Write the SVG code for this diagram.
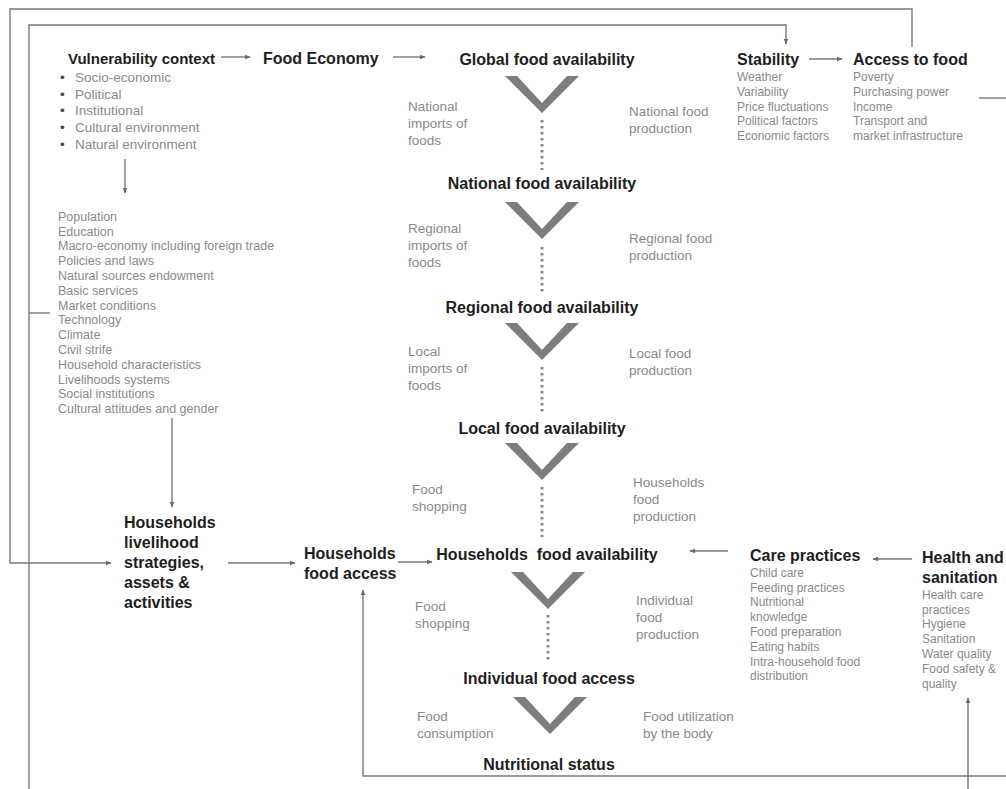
<svg xmlns="http://www.w3.org/2000/svg" width="1006" height="789" viewBox="0 0 1006 789">
<style>
.h{font-family:"Liberation Sans",Arial,sans-serif;font-weight:bold;font-size:16px;fill:#1e1e1e}
.t{font-family:"Liberation Sans",Arial,sans-serif;font-size:13.5px;fill:#8a8a8a}
.b{font-family:"Liberation Sans",Arial,sans-serif;font-size:13.5px;fill:#444}
.s{font-family:"Liberation Sans",Arial,sans-serif;font-size:12px;fill:#8a8a8a}
.l{font-family:"Liberation Sans",Arial,sans-serif;font-size:12.5px;fill:#8a8a8a}
.m{text-anchor:middle}
.c{fill:none;stroke:#7a7a7a;stroke-width:1.4}
.d{fill:none;stroke:#8a8a8a;stroke-width:3;stroke-dasharray:2.5 3.5}
.v{fill:#7d7d7d}
</style>
<defs>
<marker id="ah" viewBox="0 0 10 10" refX="9" refY="5" markerWidth="6" markerHeight="6" markerUnits="userSpaceOnUse" orient="auto">
<path d="M0,1 L10,5 L0,9 Z" fill="#6a6a6a"/>
</marker>
<path id="chev" d="M-37,0 L-25,0 L0,27 L25,0 L37,0 L0,37 Z"/>
</defs>
<rect width="1006" height="789" fill="#fff"/>

<g id="connectors">
<path class="c" d="M912,47 V9 H10 V563 H111" marker-end="url(#ah)"/>
<path class="c" d="M29,789 V25 H786 V44" marker-end="url(#ah)"/>
<path class="c" d="M50,313 H29"/>
<path class="c" d="M221,57 H250" marker-end="url(#ah)"/>
<path class="c" d="M393,57 H425" marker-end="url(#ah)"/>
<path class="c" d="M809,59 H842" marker-end="url(#ah)"/>
<path class="c" d="M979,98 H1006"/>
<path class="c" d="M125,159 V193" marker-end="url(#ah)"/>
<path class="c" d="M172,418 V507" marker-end="url(#ah)"/>
<path class="c" d="M228,563 H295" marker-end="url(#ah)"/>
<path class="c" d="M398,562 H432" marker-end="url(#ah)"/>
<path class="c" d="M728,551 H690" marker-end="url(#ah)"/>
<path class="c" d="M912,559 H873" marker-end="url(#ah)"/>
<path class="c" d="M1006,776 H363 V590" marker-end="url(#ah)"/>
<path class="c" d="M968,789 V698" marker-end="url(#ah)"/>
<path class="d" d="M542,120 V170"/>
<path class="d" d="M542,247 V295"/>
<path class="d" d="M542,367 V413"/>
<path class="d" d="M542,487 V537"/>
<path class="d" d="M548,615 V663"/>
</g>

<g id="chevrons">
<use href="#chev" class="v" x="542" y="76"/>
<use href="#chev" class="v" x="542" y="202"/>
<use href="#chev" class="v" x="542" y="323"/>
<use href="#chev" class="v" x="542" y="443"/>
<use href="#chev" class="v" x="548" y="572"/>
<use href="#chev" class="v" x="550" y="697"/>
</g>

<g id="vulnerability">
<text class="h" x="68" y="64" style="font-size:15px">Vulnerability context</text>
<text class="b" x="60" y="82">•</text><text class="t" x="75" y="82">Socio-economic</text>
<text class="b" x="60" y="99">•</text><text class="t" x="75" y="99">Political</text>
<text class="b" x="60" y="115">•</text><text class="t" x="75" y="115">Institutional</text>
<text class="b" x="60" y="132">•</text><text class="t" x="75" y="132">Cultural environment</text>
<text class="b" x="60" y="149">•</text><text class="t" x="75" y="149">Natural environment</text>
</g>

<g id="food-economy"><text class="h" x="263" y="64">Food Economy</text></g>

<g id="factors">
<text class="l" x="58" y="221">Population</text>
<text class="l" x="58" y="236">Education</text>
<text class="l" x="58" y="250">Macro-economy including foreign trade</text>
<text class="l" x="58" y="265">Policies and laws</text>
<text class="l" x="58" y="280">Natural sources endowment</text>
<text class="l" x="58" y="295">Basic services</text>
<text class="l" x="58" y="310">Market conditions</text>
<text class="l" x="58" y="324">Technology</text>
<text class="l" x="58" y="339">Climate</text>
<text class="l" x="58" y="354">Civil strife</text>
<text class="l" x="58" y="369">Household characteristics</text>
<text class="l" x="58" y="384">Livelihoods systems</text>
<text class="l" x="58" y="398">Social institutions</text>
<text class="l" x="58" y="413">Cultural attitudes and gender</text>
</g>

<g id="livelihood">
<text class="h" x="124" y="528">Households</text>
<text class="h" x="124" y="548">livelihood</text>
<text class="h" x="124" y="568">strategies,</text>
<text class="h" x="124" y="588">assets &amp;</text>
<text class="h" x="124" y="608">activities</text>
</g>

<g id="hh-food-access">
<text class="h" x="304" y="559">Households</text>
<text class="h" x="304" y="579">food access</text>
</g>

<g id="global"><text class="h m" x="547" y="65">Global food availability</text></g>
<g id="national-imports">
<text class="t" x="408" y="111">National</text>
<text class="t" x="408" y="128">imports of</text>
<text class="t" x="408" y="145">foods</text>
</g>
<g id="national-production">
<text class="t" x="629" y="116">National food</text>
<text class="t" x="629" y="133">production</text>
</g>
<g id="national"><text class="h m" x="542" y="189">National food availability</text></g>
<g id="regional-imports">
<text class="t" x="408" y="233">Regional</text>
<text class="t" x="408" y="250">imports of</text>
<text class="t" x="408" y="267">foods</text>
</g>
<g id="regional-production">
<text class="t" x="629" y="243">Regional food</text>
<text class="t" x="629" y="260">production</text>
</g>
<g id="regional"><text class="h m" x="542" y="313">Regional food availability</text></g>
<g id="local-imports">
<text class="t" x="408" y="356">Local</text>
<text class="t" x="408" y="373">imports of</text>
<text class="t" x="408" y="390">foods</text>
</g>
<g id="local-production">
<text class="t" x="629" y="358">Local food</text>
<text class="t" x="629" y="375">production</text>
</g>
<g id="local"><text class="h m" x="542" y="434">Local food availability</text></g>
<g id="shopping-1">
<text class="t" x="412" y="494">Food</text>
<text class="t" x="412" y="511">shopping</text>
</g>
<g id="hh-production">
<text class="t" x="633" y="487">Households</text>
<text class="t" x="633" y="504">food</text>
<text class="t" x="633" y="521">production</text>
</g>
<g id="hh-availability"><text class="h m" x="547" y="560" xml:space="preserve" style="white-space:pre">Households  food availability</text></g>
<g id="shopping-2">
<text class="t" x="415" y="611">Food</text>
<text class="t" x="415" y="628">shopping</text>
</g>
<g id="ind-production">
<text class="t" x="636" y="605">Individual</text>
<text class="t" x="636" y="622">food</text>
<text class="t" x="636" y="639">production</text>
</g>
<g id="ind-access"><text class="h m" x="549" y="684">Individual food access</text></g>
<g id="consumption">
<text class="t" x="417" y="721">Food</text>
<text class="t" x="417" y="738">consumption</text>
</g>
<g id="utilization">
<text class="t" x="643" y="721">Food utilization</text>
<text class="t" x="643" y="738">by the body</text>
</g>
<g id="nutritional"><text class="h m" x="549" y="770">Nutritional status</text></g>

<g id="stability">
<text class="h" x="737" y="65">Stability</text>
<text class="s" x="737" y="81">Weather</text>
<text class="s" x="737" y="96">Variability</text>
<text class="s" x="737" y="111">Price fluctuations</text>
<text class="s" x="737" y="125">Political factors</text>
<text class="s" x="737" y="140">Economic factors</text>
</g>

<g id="access-to-food">
<text class="h" x="853" y="65">Access to food</text>
<text class="s" x="853" y="81">Poverty</text>
<text class="s" x="853" y="96">Purchasing power</text>
<text class="s" x="853" y="111">Income</text>
<text class="s" x="853" y="125">Transport and</text>
<text class="s" x="853" y="140">market infrastructure</text>
</g>

<g id="care">
<text class="h" x="750" y="561">Care practices</text>
<text class="s" x="750" y="577">Child care</text>
<text class="s" x="750" y="592">Feeding practices</text>
<text class="s" x="750" y="606">Nutritional</text>
<text class="s" x="750" y="621">knowledge</text>
<text class="s" x="750" y="636">Food preparation</text>
<text class="s" x="750" y="651">Eating habits</text>
<text class="s" x="750" y="666">Intra-household food</text>
<text class="s" x="750" y="680">distribution</text>
</g>

<g id="health">
<text class="h" x="922" y="563">Health and</text>
<text class="h" x="922" y="583">sanitation</text>
<text class="s" x="922" y="599">Health care</text>
<text class="s" x="922" y="614">practices</text>
<text class="s" x="922" y="628">Hygiene</text>
<text class="s" x="922" y="643">Sanitation</text>
<text class="s" x="922" y="658">Water quality</text>
<text class="s" x="922" y="673">Food safety &amp;</text>
<text class="s" x="922" y="688">quality</text>
</g>
</svg>
